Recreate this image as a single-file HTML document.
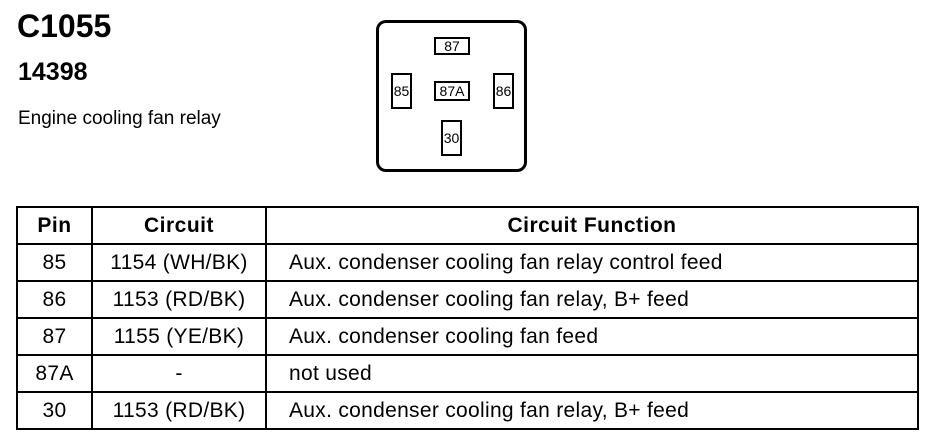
<!DOCTYPE html>
<html><head><style>
body{margin:0;width:940px;height:448px;background:#fff;position:relative;font-family:"Liberation Sans",Arial,sans-serif;color:#000;overflow:hidden}
.a{position:absolute}
.pin{position:absolute;border:2px solid #000;box-sizing:border-box;font-size:14px;display:flex;align-items:center;justify-content:center}
table{position:absolute;left:16px;top:206px;width:903px;border-collapse:collapse;font-size:21px;letter-spacing:0.3px}
td,th{border:2px solid #000;height:35px;padding:0;text-align:center}
th{font-weight:bold;letter-spacing:0.5px}
td.l{text-align:left;padding-left:22px}
</style></head><body>
<div class="a" style="left:17px;top:8px;font-size:32px;font-weight:bold">C1055</div>
<div class="a" style="left:18px;top:58px;font-size:25px;font-weight:bold">14398</div>
<div class="a" style="left:18px;top:108px;font-size:19px">Engine cooling fan relay</div>
<div class="a" style="left:376px;top:20px;width:151px;height:152px;border:3px solid #000;border-radius:10px;box-sizing:border-box"></div>
<div class="pin" style="left:434px;top:37px;width:36px;height:18px">87</div>
<div class="pin" style="left:434px;top:81px;width:36px;height:20px">87A</div>
<div class="pin" style="left:391px;top:73px;width:21px;height:36px">85</div>
<div class="pin" style="left:493px;top:73px;width:21px;height:36px">86</div>
<div class="pin" style="left:441px;top:120px;width:21px;height:36px">30</div>
<table>
<tr><th style="width:73px">Pin</th><th style="width:172px">Circuit</th><th>Circuit Function</th></tr>
<tr><td>85</td><td>1154 (WH/BK)</td><td class="l">Aux. condenser cooling fan relay control feed</td></tr>
<tr><td>86</td><td>1153 (RD/BK)</td><td class="l">Aux. condenser cooling fan relay, B+ feed</td></tr>
<tr><td>87</td><td>1155 (YE/BK)</td><td class="l">Aux. condenser cooling fan feed</td></tr>
<tr><td>87A</td><td>-</td><td class="l">not used</td></tr>
<tr><td>30</td><td>1153 (RD/BK)</td><td class="l">Aux. condenser cooling fan relay, B+ feed</td></tr>
</table>
</body></html>
